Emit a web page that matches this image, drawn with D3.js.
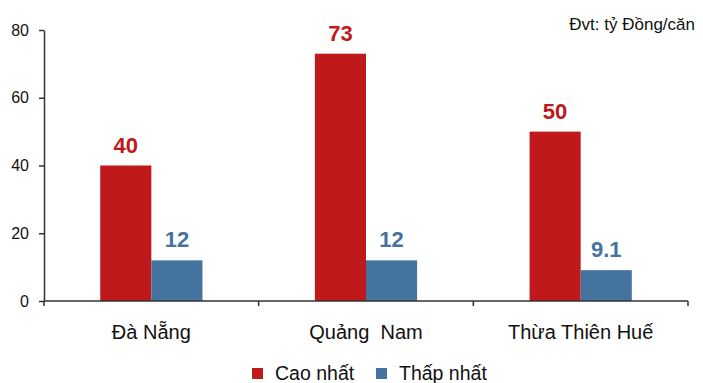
<!DOCTYPE html>
<html>
<head>
<meta charset="utf-8">
<script src="https://cdn.jsdelivr.net/npm/d3@7"></script>
<style>
  html, body { margin: 0; padding: 0; background: #fff; }
  svg { display: block; font-family: "Liberation Sans", Arial, sans-serif; }
</style>
</head>
<body>
<svg id="chart" width="703" height="383"></svg>
<script>
// Housing price range by province (billion VND per unit)
const categories = ["Đà Nẵng", "Quảng  Nam", "Thừa Thiên Huế"];
const seriesNames = ["Cao nhất", "Thấp nhất"];
const highValues = [40, 73, 50];
const lowValues = [12, 12, 9.1];
const valueLabels = [["40", "12"], ["73", "12"], ["50", "9.1"]];
const yTicks = [0, 20, 40, 60, 80];
const colors = ["#C0191B", "#44739F"];
const unitNote = "Đvt: tỷ Đồng/căn";

const svg = d3.select("#chart");
const plotLeft = 44, plotRight = 688, plotTop = 30, plotBottom = 301;

const x = d3.scaleBand().domain(categories).range([plotLeft, plotRight]).paddingInner(0).paddingOuter(0);
const x1 = d3.scaleBand().domain(seriesNames).range([0, x.bandwidth()]).paddingInner(0).paddingOuter(1.1);
const y = d3.scaleLinear().domain([0, 80]).range([plotBottom, plotTop]);

const rows = categories.map((c, i) => ({
  cat: c,
  vals: [
    { s: seriesNames[0], v: highValues[i], label: valueLabels[i][0], color: colors[0] },
    { s: seriesNames[1], v: lowValues[i], label: valueLabels[i][1], color: colors[1] }
  ]
}));

const groups = svg.selectAll("g.cat").data(rows).join("g")
  .attr("class", "cat")
  .attr("transform", d => `translate(${x(d.cat)},0)`);

groups.selectAll("rect").data(d => d.vals).join("rect")
  .attr("x", d => x1(d.s))
  .attr("y", d => y(d.v))
  .attr("width", x1.bandwidth())
  .attr("height", d => y(0) - y(d.v))
  .attr("fill", d => d.color);

groups.selectAll("text.val").data(d => d.vals).join("text")
  .attr("class", "val")
  .attr("x", d => x1(d.s) + x1.bandwidth() / 2)
  .attr("y", d => y(d.v) - 13)
  .attr("text-anchor", "middle")
  .attr("font-size", 22)
  .attr("font-weight", "bold")
  .attr("fill", d => d.color)
  .text(d => d.label);

// Y axis
const yAxis = svg.append("g")
  .attr("transform", `translate(${plotLeft},0)`)
  .call(d3.axisLeft(y).tickValues(yTicks).tickSize(5).tickPadding(10).tickSizeOuter(0));
yAxis.select(".domain").attr("stroke", "#333").attr("stroke-width", 1.5);
yAxis.selectAll(".tick line").attr("stroke", "#333").attr("stroke-width", 1.5);
yAxis.selectAll(".tick text").attr("font-size", 16).attr("fill", "#111")
  .attr("font-family", "Liberation Sans, Arial, sans-serif");

// X axis with boundary ticks between categories
const xAxis = svg.append("g")
  .attr("transform", `translate(0,${plotBottom})`);
xAxis.append("line")
  .attr("x1", plotLeft).attr("x2", plotRight)
  .attr("stroke", "#333").attr("stroke-width", 1.5);
const bounds = categories.map(c => x(c)).concat([x(categories[categories.length - 1]) + x.bandwidth()]);
xAxis.selectAll("line.b").data(bounds).join("line")
  .attr("class", "b")
  .attr("x1", d => d).attr("x2", d => d)
  .attr("y1", 0).attr("y2", 5)
  .attr("stroke", "#333").attr("stroke-width", 1.5);
xAxis.selectAll("text").data(categories).join("text")
  .attr("x", d => x(d) + x.bandwidth() / 2)
  .attr("y", 38)
  .attr("text-anchor", "middle")
  .attr("font-size", 20)
  .attr("fill", "#111")
  .style("white-space", "pre")
  .text(d => d);

// Unit note
svg.append("text")
  .attr("x", 695).attr("y", 30)
  .attr("text-anchor", "end")
  .attr("font-size", 17)
  .attr("fill", "#111")
  .text(unitNote);

// Legend
const legend = svg.append("g").attr("transform", "translate(252,368)");
const items = [{ name: seriesNames[0], color: colors[0], dx: 0 }, { name: seriesNames[1], color: colors[1], dx: 124 }];
items.forEach(it => {
  legend.append("rect").attr("x", it.dx).attr("y", 0).attr("width", 11).attr("height", 11).attr("fill", it.color);
  legend.append("text").attr("x", it.dx + 23).attr("y", 11.5).attr("font-size", 19.5).attr("fill", "#111").text(it.name);
});
</script>
</body>
</html>
